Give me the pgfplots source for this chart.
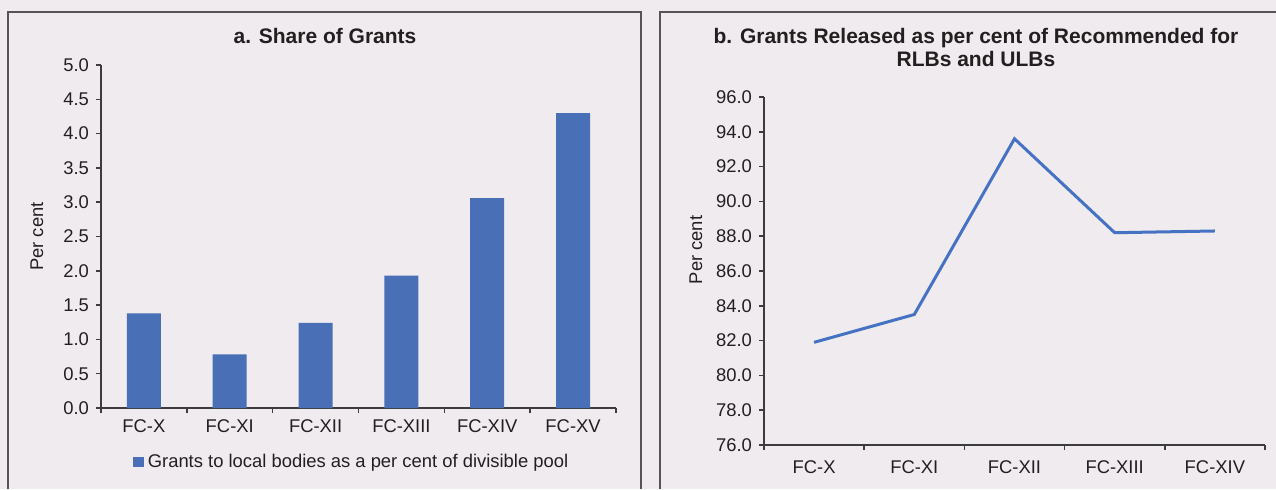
\documentclass[border=0pt]{standalone}
\usepackage{fontspec}
\setmainfont{Liberation Sans}
\usepackage{pgfplots}
\pgfplotsset{compat=1.18}
\definecolor{bgc}{RGB}{239,235,239}
\definecolor{framec}{RGB}{85,85,85}
\definecolor{axc}{RGB}{60,60,60}
\definecolor{barblue}{RGB}{73,112,183}
\definecolor{lineblue}{RGB}{70,114,196}
\definecolor{txt}{RGB}{35,31,32}

\pgfplotsset{panel/.style={
  scale only axis, axis lines*=left,
  axis line style={axc, line width=0.75pt},
  tick align=outside, major tick length=2.5pt,
  tick style={axc, line width=0.75pt},
  tick label style={font=\fontsize{9.2}{11}\selectfont, text=txt},
  label style={font=\fontsize{9.2}{11}\selectfont, text=txt},
  y tick label style={/pgf/number format/.cd, fixed, fixed zerofill, precision=1, assume math mode=true},
  ylabel={Per cent},
  clip=false,
}}

\begin{document}
\begin{tikzpicture}[x=0.5pt,y=0.5pt]
\fill[bgc] (0,0) rectangle (1276,489);
\useasboundingbox (0,0) rectangle (1276,489);
\draw[framec, line width=0.75pt] (8,0) -- (8,477) -- (641,477) -- (641,0);
\draw[framec, line width=0.75pt] (660,0) -- (660,477) -- (1276,477);

\node[font=\bfseries\fontsize{10.5}{12}\selectfont, text=txt] at (325,453) {a. Share of Grants};
\node[font=\bfseries\fontsize{10.5}{11.5}\selectfont, text=txt, align=center] at (976,441.5)
  {b. Grants Released as per cent of Recommended for\\RLBs and ULBs};

% panel a
\begin{axis}[panel, at={(50.5pt,40.5pt)}, anchor=south west,
  width=257.5pt, height=171.5pt,
  xmin=0.5, xmax=6.5, ymin=0, ymax=5,
  ytick={0,0.5,...,5},
  xtick={0.5,1.5,...,6.5},
  xticklabels={FC-X,FC-XI,FC-XII,FC-XIII,FC-XIV,FC-XV,{}},
  x tick label style={xshift=21.46pt},
  y label style={at={(axis description cs:0,0.5)}, anchor=center, yshift=32pt},
  ybar, bar width=17pt,
  legend style={draw=none, fill=none, at={(axis description cs:0.489,0)}, anchor=center,
    yshift=-27pt, font=\fontsize{9.2}{11}\selectfont, text=txt},
]
\addplot[fill=barblue, draw=none,
  legend image code/.code={\fill[barblue] (0pt,-2.6pt) rectangle (5.2pt,2.6pt);}]
  coordinates {(1,1.38)(2,0.78)(3,1.24)(4,1.93)(5,3.06)(6,4.30)};
\addlegendentry{Grants to local bodies as a per cent of divisible pool}
\end{axis}

% panel b
\begin{axis}[panel, at={(382pt,22pt)}, anchor=south west,
  width=250.5pt, height=174pt,
  xmin=0.5, xmax=5.5, ymin=76, ymax=96,
  ytick={76,78,...,96},
  xtick={0.5,1.5,...,5.5},
  xticklabels={FC-X,FC-XI,FC-XII,FC-XIII,FC-XIV,{}},
  x tick label style={xshift=25.05pt, yshift=-2pt},
  y label style={at={(axis description cs:0,0.5)}, anchor=center, yshift=34pt, xshift=10.5pt},
]
\addplot[lineblue, line width=1.5pt, mark=none]
  coordinates {(1,81.9)(2,83.5)(3,93.6)(4,88.2)(5,88.3)};
\end{axis}
\end{tikzpicture}
\end{document}
